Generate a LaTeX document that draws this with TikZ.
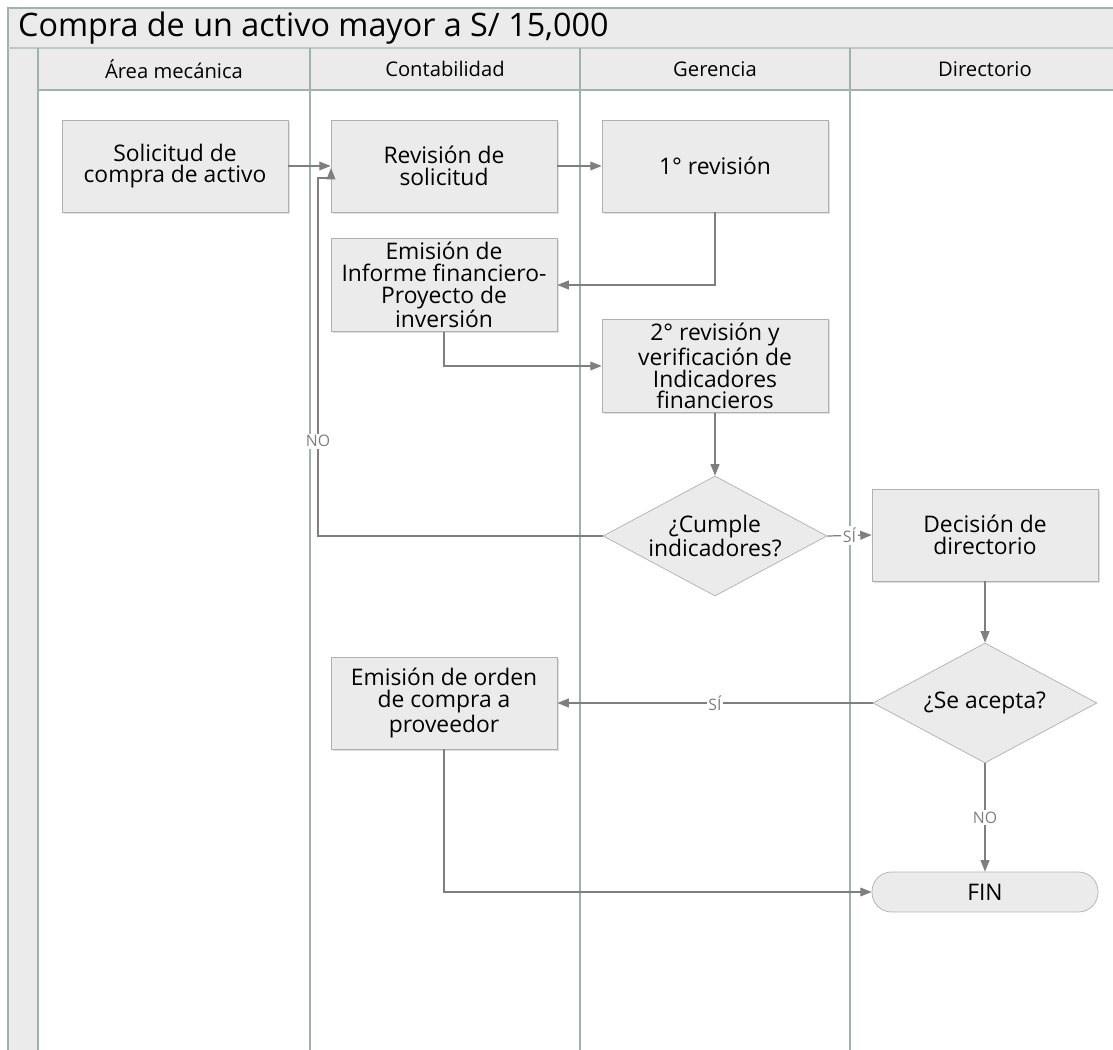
\documentclass[tikz,border=0pt]{standalone}
\usepackage{fontspec}
\setmainfont{Open Sans}
\usepackage{tikz}
\usetikzlibrary{positioning}
\usetikzlibrary{arrows.meta}
\usetikzlibrary{shapes}
\usetikzlibrary{shadows}

\definecolor{boxfill}{HTML}{EBEBEB}
\definecolor{boxline}{HTML}{ADB2B1}
\definecolor{laneline}{HTML}{A3B1AD}
\definecolor{flowgray}{HTML}{7F7F7F}

\tikzset{
    stepbox/.style={draw=boxline, fill=boxfill, minimum width=4.52cm, minimum height=1.84cm,
        align=center, inner sep=2pt, font=\fontsize{13}{12.4}\selectfont,
        drop shadow={opacity=0.25, shadow xshift=1pt, shadow yshift=-1pt}},
    choice/.style={diamond, draw=boxline, fill=boxfill, minimum width=4.48cm, minimum height=2.4cm,
        aspect=1.87, inner sep=0pt, align=center, font=\fontsize{13}{12.4}\selectfont},
    endbox/.style={draw=boxline, fill=boxfill, minimum width=4.52cm, minimum height=0.8cm,
        rounded corners=0.39cm, font=\fontsize{13}{12.4}\selectfont},
    flow/.style={draw=flowgray, line width=0.7pt, -{Triangle[length=6.5pt, width=5pt]}},
    lbl/.style={fill=white, text=flowgray, inner sep=1pt, font=\fontsize{9}{10}\selectfont},
    lanehead/.style={font=\fontsize{11.5}{13}\selectfont},
}

\begin{document}
\begin{tikzpicture}[x=0.02cm, y=-0.02cm]
    \useasboundingbox (0,0) rectangle (1113,1050);
    \fill[white] (0,0) rectangle (1113,1050);

    % pool and lanes
    \fill[boxfill] (8,8) rectangle (1125,90);
    \fill[boxfill] (8,48) rectangle (38,1060);
    \draw[laneline, line width=0.9pt] (8,1060) -- (8,8) -- (1125,8);
    \draw[laneline!70, line width=0.7pt] (8,48) -- (1125,48);
    \draw[laneline, line width=0.9pt] (38,90) -- (1125,90);
    \foreach \lx in {38,310,580,850}
        \draw[laneline, line width=0.9pt] (\lx,48) -- (\lx,1060);
    \node[anchor=west, font=\fontsize{18.4}{20}\selectfont] (title) at (12,28) {Compra de un activo mayor a S/ 15,000};
    \node[lanehead] (hMec) at (174,69) {Área mecánica};
    \node[lanehead] (hCon) at (445,69) {Contabilidad};
    \node[lanehead] (hGer) at (715,69) {Gerencia};
    \node[lanehead] (hDir) at (985,69) {Directorio};

    % steps
    \node[stepbox] (sol) at (175,166) {Solicitud de\\compra de activo};
    \node[stepbox] (rev) at (444,166) {Revisión de\\solicitud};
    \node[stepbox] (rev1) at (715,166) {1° revisión};
    \node[stepbox] (emi) at (444,285) {Emisión de\\Informe financiero-\\Proyecto de\\inversión};
    \node[stepbox] (rev2) at (715,366) {2° revisión y\\verificación de\\Indicadores\\financieros};
    \node[choice] (cum) at (715,536) {¿Cumple\\indicadores?};
    \node[stepbox] (dec) at (985,535) {Decisión de\\directorio};
    \node[choice] (acp) at (985,703) {¿Se acepta?};
    \node[stepbox] (ord) at (444,703) {Emisión de orden\\de compra a\\proveedor};
    \node[endbox] (fin) at (985,892) {FIN};

    \coordinate (noC) at (318,536);
    \coordinate (noA) at (318,178);
    \coordinate (noB) at (331,168);

    % connectors
    \draw[flow] (sol.east) -- (rev.west);
    \draw[flow] (cum.west) -- (noC) -- node[lbl, pos=0.265] {NO} (noA) -| (noB);
    \draw[flow] (rev.east) -- (rev1.west);
    \draw[flow] (rev1.south) |- (emi.east);
    \draw[flow] (emi.south) |- (rev2.west);
    \draw[flow] (rev2.south) -- (cum.north);
    \draw[flow] (cum.east) -- node[lbl] {SÍ} (dec.west);
    \draw[flow] (dec.south) -- (acp.north);
    \draw[flow] (acp.west) -- node[lbl] {SÍ} (ord.east);
    \draw[flow] (acp.south) -- node[lbl] {NO} (fin.north);
    \draw[flow] (ord.south) |- (fin.west);
\end{tikzpicture}
\end{document}
